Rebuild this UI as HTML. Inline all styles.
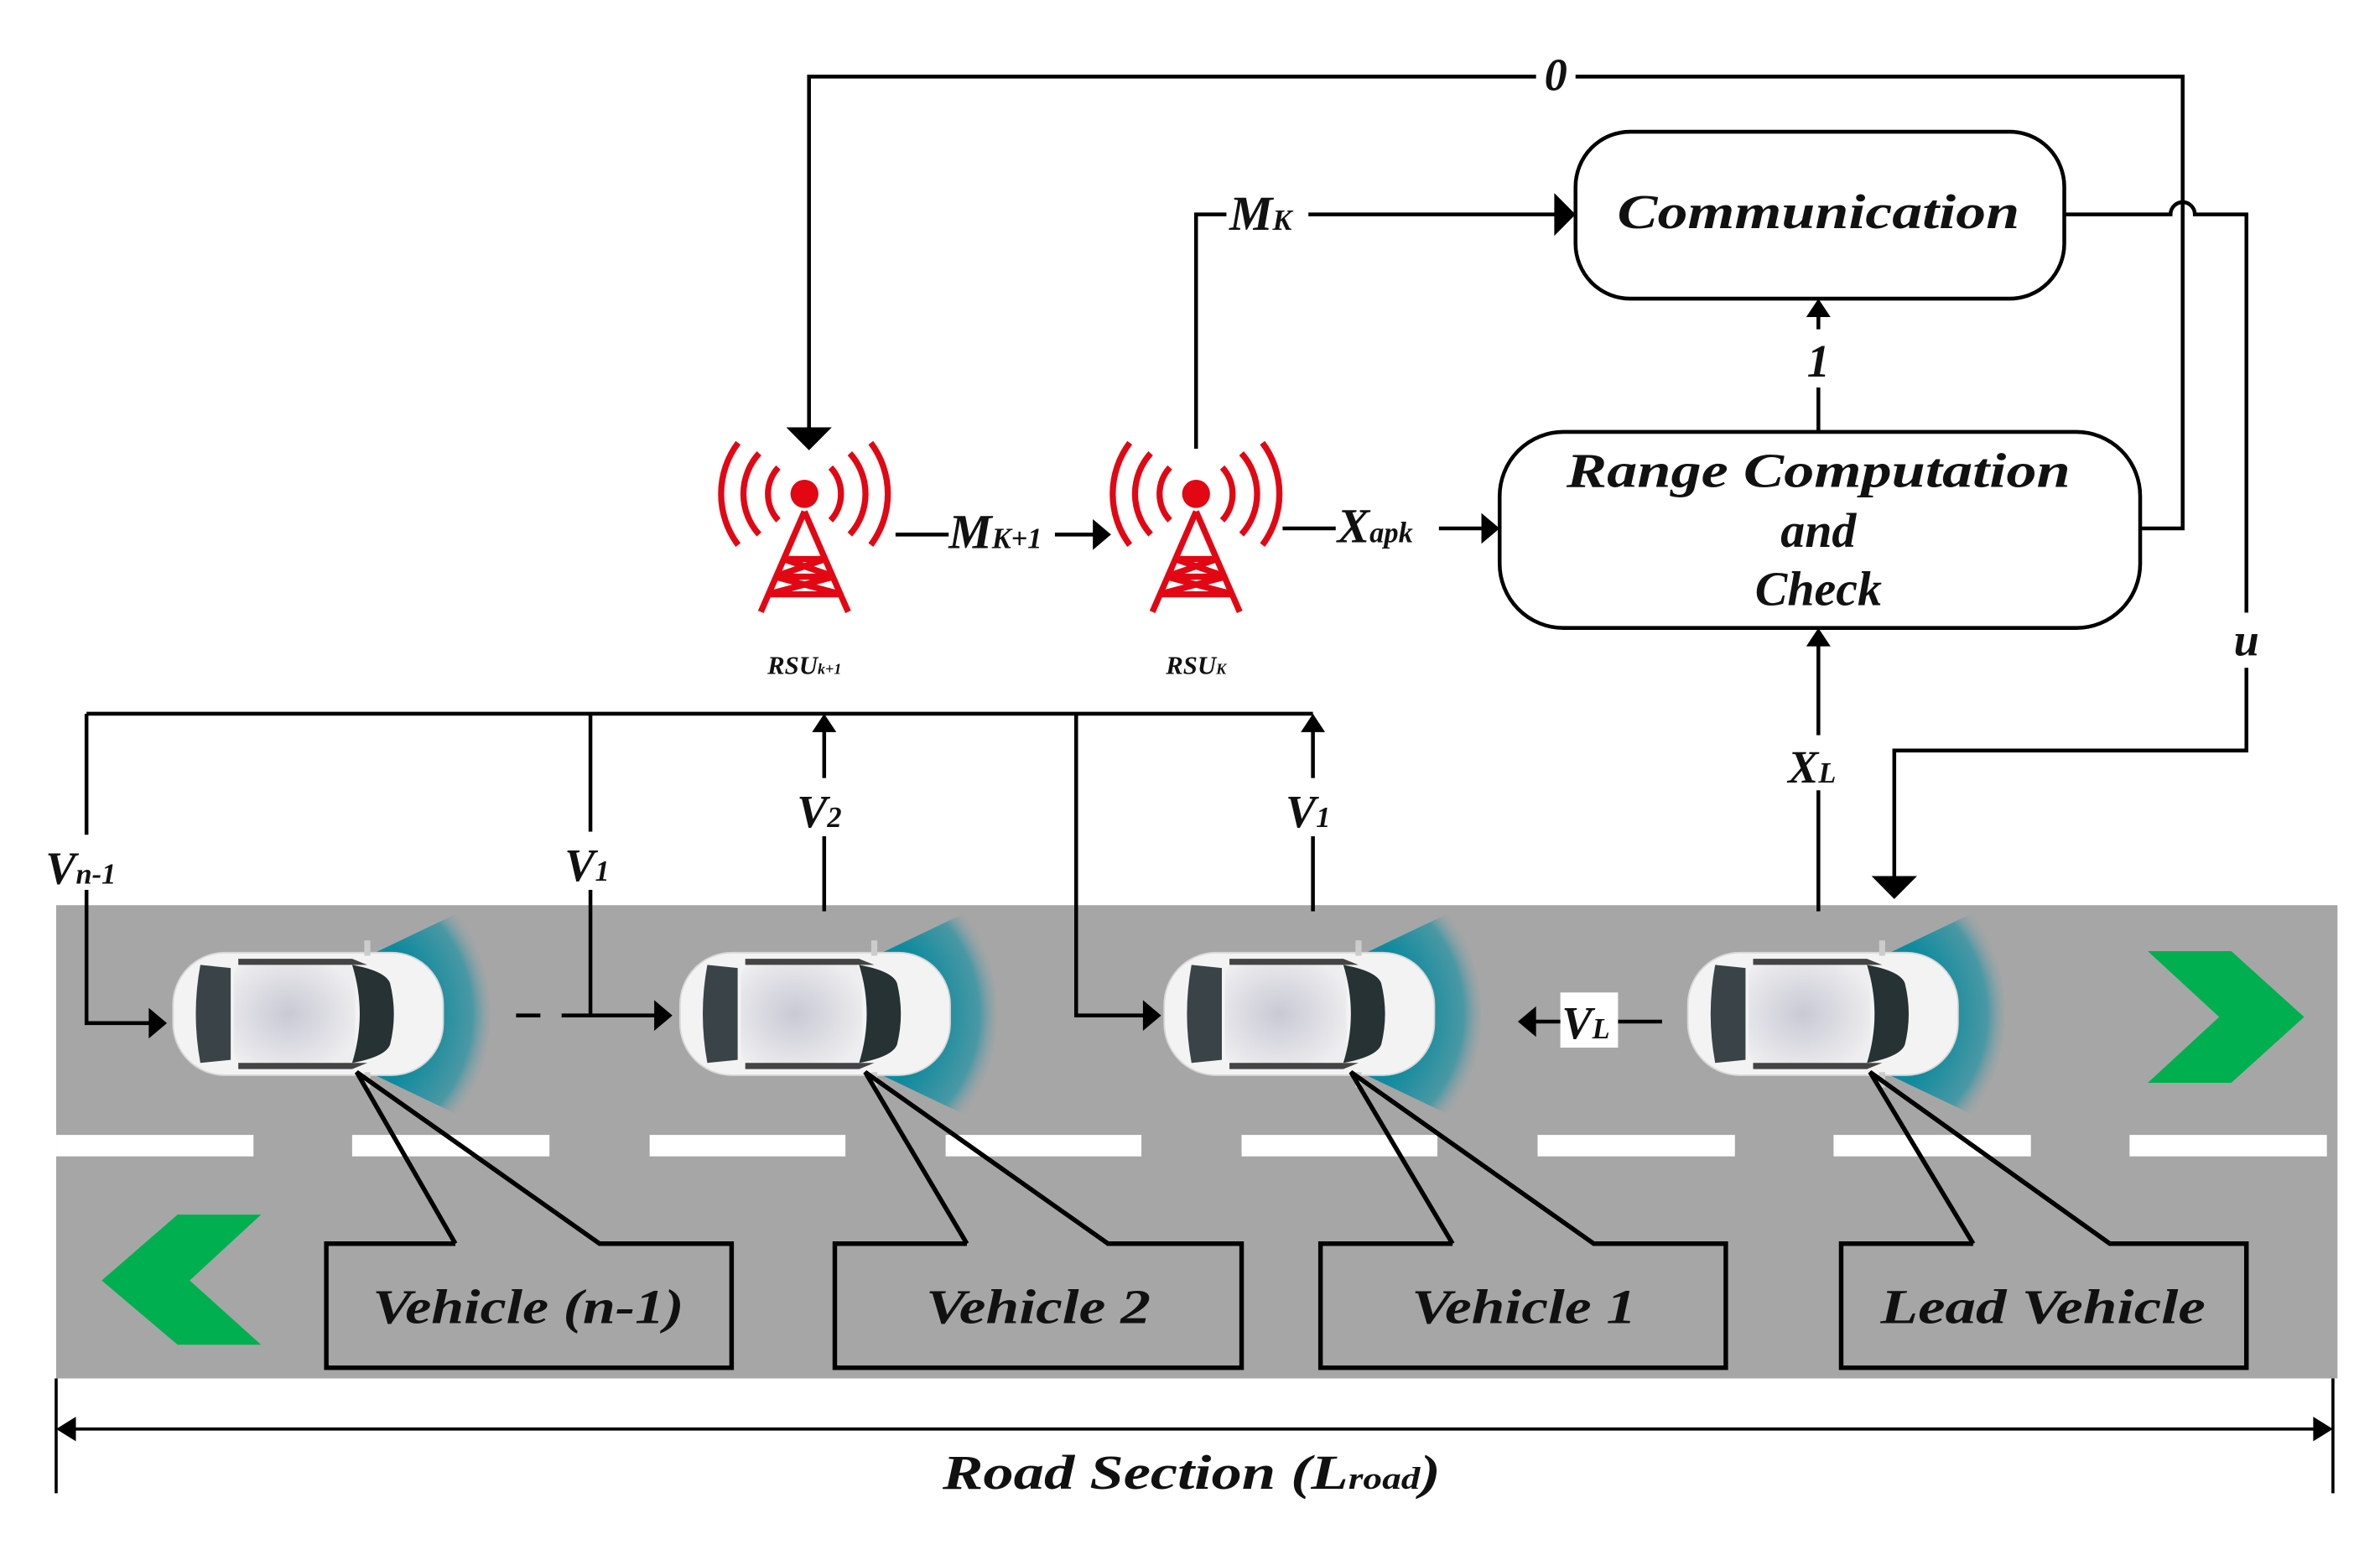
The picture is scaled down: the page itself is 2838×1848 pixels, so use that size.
<!DOCTYPE html>
<html><head><meta charset="utf-8"><style>
html,body{margin:0;padding:0;background:#fff;}
svg{display:block;}
text{font-family:"Liberation Serif",serif;font-style:italic;font-weight:bold;fill:#111;}
</style></head><body>
<svg width="2838" height="1848" viewBox="0 0 1568 1012" preserveAspectRatio="none" xmlns="http://www.w3.org/2000/svg">
<defs>
<radialGradient id="fan" cx="0" cy="0" r="1" gradientUnits="userSpaceOnUse" gradientTransform="translate(20 0) scale(105)">
<stop offset="0.55" stop-color="#0e8a9e"/><stop offset="0.85" stop-color="#4a98a4"/><stop offset="1" stop-color="#a6a6a6" stop-opacity="0"/>
</radialGradient>
<radialGradient id="roof" cx="0.45" cy="0.5" r="0.6"><stop offset="0" stop-color="#c8c9d4"/><stop offset="1" stop-color="#eeeef0"/></radialGradient>
<g id="car">
<path d="M45,-40 A100,100 0 0 1 45,40 L100,66 A115,115 0 0 0 100,-66 Z" fill="url(#fan)"/>
<rect x="-88" y="-40" width="178" height="80" rx="34" fill="#f3f3f4" stroke="#d8d8d8"/>
<path d="M-70,-32 L-50,-30 L-50,30 L-70,32 Q-76,0 -70,-32Z" fill="#3a4448"/>
<rect x="-48" y="-34" width="80" height="68" rx="10" fill="url(#roof)"/>
<path d="M30,-32 Q52,-28 55,-20 Q60,0 55,20 Q52,28 30,32 Q40,0 30,-32Z" fill="#263234"/>
<path d="M-45,-36 L30,-36 L40,-32 L-45,-32Z" fill="#444"/>
<path d="M-45,36 L30,36 L40,32 L-45,32Z" fill="#444"/>
<rect x="38" y="-48" width="4" height="10" fill="#ccc"/><rect x="38" y="38" width="4" height="10" fill="#ccc"/>
</g>
<g id="tower" fill="none" stroke="#e30613" stroke-width="3.5">
<circle cx="0" cy="23" r="8" fill="#e30613" stroke="none"/>
<path d="M0,33 L-25,90 M0,33 L25,90 M-12,60 L12,60 M-17,70 L17,70 M-21,80 L21,80 M-12,60 L17,70 M12,60 L-17,70 M-17,70 L21,80 M17,70 L-21,80" stroke-width="3.5"/>
<path d="M-15,8 A22,22 0 0 0 -15,38 M15,8 A22,22 0 0 1 15,38"/>
<path d="M-26,0 A34,34 0 0 0 -26,46 M26,0 A34,34 0 0 1 26,46"/>
<path d="M-38,-6 A48,48 0 0 0 -38,52 M38,-6 A48,48 0 0 1 38,52"/>
</g>
</defs>

<rect x="37" y="591" width="1503" height="309" fill="#a6a6a6"/>
<g fill="#fff">
<rect x="37" y="741" width="130" height="14"/><rect x="232" y="741" width="130" height="14"/>
<rect x="428" y="741" width="129" height="14"/><rect x="623" y="741" width="129" height="14"/>
<rect x="818" y="741" width="129" height="14"/><rect x="1013" y="741" width="130" height="14"/>
<rect x="1208" y="741" width="130" height="14"/><rect x="1403" y="741" width="130" height="14"/>
</g>
<polygon points="1415,621 1470,621 1518,664 1470,707 1415,707 1462,664" fill="#00b050"/>
<polygon points="172,793 117,793 67,836 117,878 172,878 125,836" fill="#00b050"/>

<use href="#car" x="202" y="662"/>
<use href="#car" x="536" y="662"/>
<use href="#car" x="855" y="662"/>
<use href="#car" x="1200" y="662"/>

<g fill="none" stroke="#000" stroke-width="3">
<path d="M300,812 L215,812 L215,893 L482,893 L482,812 L395,812 L235,700 L300,812"/>
<path d="M637,812 L550,812 L550,893 L818,893 L818,812 L730,812 L570,700 L637,812"/>
<path d="M957,812 L870,812 L870,893 L1137,893 L1137,812 L1050,812 L890,700 L957,812"/>
<path d="M1300,812 L1213,812 L1213,893 L1480,893 L1480,812 L1390,812 L1232,700 L1300,812"/>
</g>
<text x="348" y="864" font-size="32" text-anchor="middle" textLength="205" lengthAdjust="spacingAndGlyphs">Vehicle (n-1)</text>
<text x="684" y="864" font-size="32" text-anchor="middle" textLength="148" lengthAdjust="spacingAndGlyphs">Vehicle 2</text>
<text x="1004" y="864" font-size="32" text-anchor="middle" textLength="148" lengthAdjust="spacingAndGlyphs">Vehicle 1</text>
<text x="1346" y="864" font-size="32" text-anchor="middle" textLength="214" lengthAdjust="spacingAndGlyphs">Lead Vehicle</text>

<g stroke="#000" stroke-width="2" fill="none">
<line x1="37" y1="900" x2="37" y2="975"/><line x1="1537" y1="900" x2="1537" y2="975"/>
<line x1="45" y1="933" x2="1529" y2="933"/>
</g>
<polygon points="37,933 50,925 50,941" fill="#000"/><polygon points="1537,933 1524,925 1524,941"/>
<text x="785" y="972" font-size="32" text-anchor="middle" textLength="328" lengthAdjust="spacingAndGlyphs">Road Section (L<tspan font-size="20">road</tspan>)</text>

<g stroke="#000" stroke-width="2.5" fill="none">
<path d="M57,466 L865,466"/>
<path d="M57,466 L57,668 L100,668"/>
<path d="M389,466 L389,663 L433,663"/>
<path d="M340,663 L356,663 M370,663 L389,663"/>
<path d="M543,595 L543,476"/>
<path d="M709,466 L709,663 L755,663"/>
<path d="M865,595 L865,476"/>
<path d="M1095,667 L1010,667"/>
<path d="M1198,595 L1198,420"/>
<path d="M1198,282 L1198,205"/>
<path d="M1360,140 L1430,140 A8,8 0 0 1 1446,140 L1480,140 L1480,490 L1248,490 L1248,575"/>
<path d="M1410,345 L1438,345 L1438,50 L533,50 L533,282"/>
<path d="M788,293 L788,140 L1028,140"/>
<path d="M590,349 L722,349"/>
<path d="M845,345 L978,345"/>
</g>
<g fill="#000">
<polygon points="110,668 98,658 98,678"/>
<polygon points="443,663 431,653 431,673"/>
<polygon points="765,663 753,653 753,673"/>
<polygon points="543,466 535,478 551,478"/>
<polygon points="865,466 857,478 873,478"/>
<polygon points="1000,667 1012,657 1012,677"/>
<polygon points="1198,410 1190,422 1206,422"/>
<polygon points="1198,195 1190,207 1206,207"/>
<polygon points="1248,587 1233,572 1263,572"/>
<polygon points="533,294 518,279 548,279"/>
<polygon points="1038,140 1024,126 1024,154"/>
<polygon points="732,349 720,339 720,359"/>
<polygon points="988,345 976,335 976,355"/>
</g>

<g fill="#fff">
<rect x="28" y="545" width="60" height="36"/><rect x="370" y="543" width="38" height="38"/>
<rect x="523" y="508" width="40" height="38"/><rect x="845" y="508" width="40" height="38"/>
<rect x="1028" y="648" width="38" height="36"/><rect x="1178" y="480" width="42" height="36"/>
<rect x="1185" y="215" width="26" height="38"/><rect x="1463" y="400" width="34" height="36"/>
<rect x="1012" y="32" width="26" height="36"/><rect x="808" y="122" width="54" height="36"/>
<rect x="625" y="330" width="70" height="36"/><rect x="880" y="328" width="68" height="36"/>
</g>
<text x="30" y="577" font-size="30">V<tspan font-size="19">n-1</tspan></text>
<text x="372" y="575" font-size="30">V<tspan font-size="19">1</tspan></text>
<text x="525" y="540" font-size="30">V<tspan font-size="19">2</tspan></text>
<text x="847" y="540" font-size="30">V<tspan font-size="19">1</tspan></text>
<text x="1029" y="678" font-size="30">V<tspan font-size="19">L</tspan></text>
<text x="1178" y="511" font-size="30">X<tspan font-size="19">L</tspan></text>
<text x="1198" y="246" font-size="30" text-anchor="middle">1</text>
<text x="1480" y="428" font-size="30" text-anchor="middle">u</text>
<text x="1025" y="59" font-size="30" text-anchor="middle">0</text>
<text x="810" y="150" font-size="32">M<tspan font-size="19">K</tspan></text>
<text x="625" y="358" font-size="32">M<tspan font-size="19">K+1</tspan></text>
<text x="881" y="354" font-size="32">X<tspan font-size="19">apk</tspan></text>

<rect x="1038" y="86" width="322" height="109" rx="36" fill="#fff" stroke="#000" stroke-width="2.5"/>
<text x="1198" y="149" font-size="32" text-anchor="middle" textLength="265" lengthAdjust="spacingAndGlyphs">Communication</text>
<rect x="988" y="282" width="422" height="128" rx="42" fill="#fff" stroke="#000" stroke-width="2.5"/>
<text x="1198" y="318" font-size="32" text-anchor="middle" textLength="332" lengthAdjust="spacingAndGlyphs">Range Computation</text>
<text x="1198" y="357" font-size="32" text-anchor="middle">and</text>
<text x="1198" y="395" font-size="32" text-anchor="middle">Check</text>

<use href="#tower" transform="translate(530 296) scale(1.15)"/>
<use href="#tower" transform="translate(788 296) scale(1.15)"/>
<text x="530" y="440" font-size="17" text-anchor="middle">RSU<tspan font-size="10">k+1</tspan></text>
<text x="788" y="440" font-size="17" text-anchor="middle">RSU<tspan font-size="10">K</tspan></text>
</svg>
</body></html>
